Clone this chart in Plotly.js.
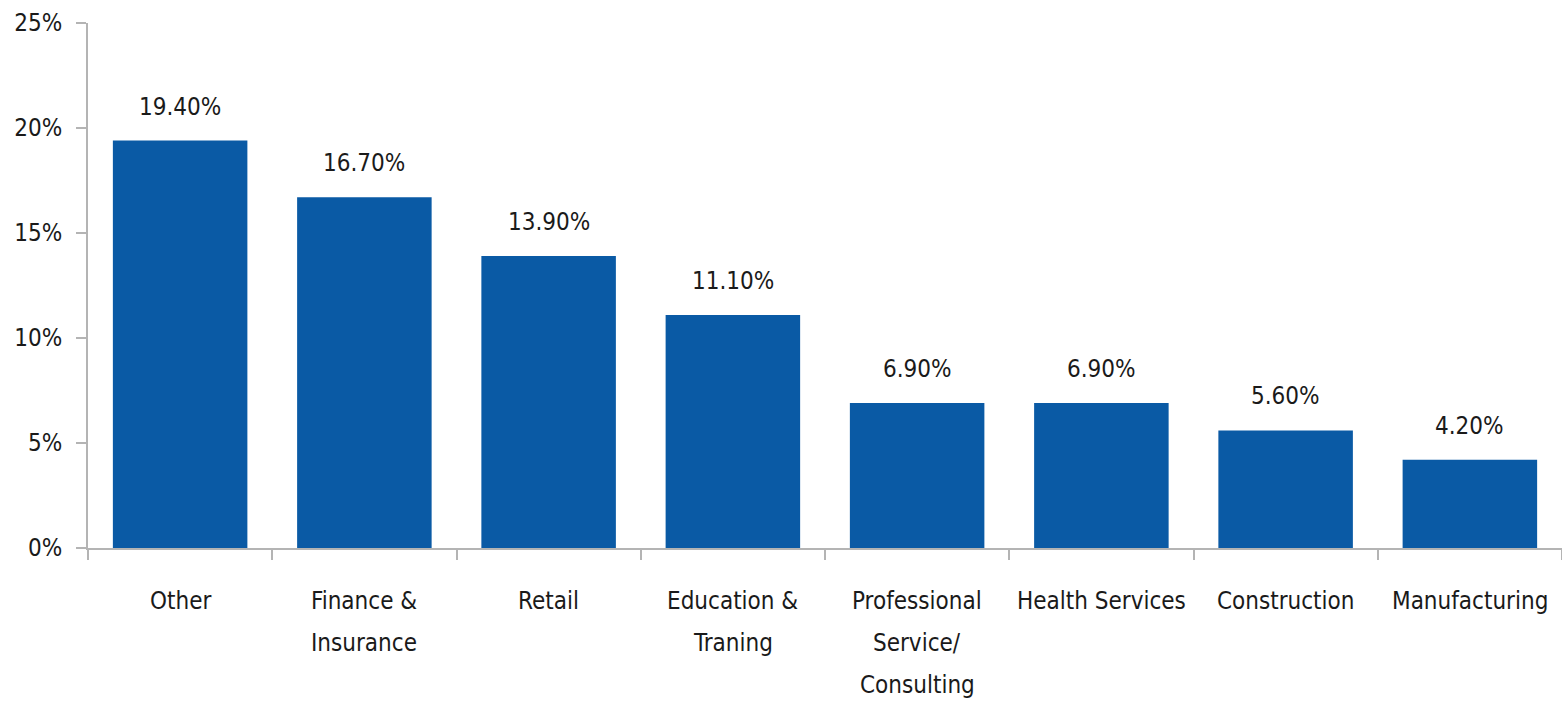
<!DOCTYPE html>
<html>
<head>
<meta charset="utf-8">
<script src="https://cdn.plot.ly/plotly-3.0.1.min.js"></script>
<style>html,body{margin:0;padding:0;background:#fff;}#chart{width:1562px;height:705px;}</style>
</head>
<body>
<div id="chart"></div>
<script>
const categories = ["Other", "Finance &<br>Insurance", "Retail", "Education &<br>Traning", "Professional<br>Service/<br>Consulting", "Health Services", "Construction", "Manufacturing"];
const values = [19.4, 16.7, 13.9, 11.1, 6.9, 6.9, 5.6, 4.2];
const valueLabels = ["19.40%", "16.70%", "13.90%", "11.10%", "6.90%", "6.90%", "5.60%", "4.20%"];
const yTickVals = [0, 5, 10, 15, 20, 25];
const yTickText = ["0%", "5%", "10%", "15%", "20%", "25%"];

const FONT = "'Liberation Sans Narrow', 'Arial Narrow', 'DejaVu Sans Condensed', 'Liberation Sans', Arial, sans-serif";
const axisColor = "#b4b4b4";
const textColor = "#1a1a1a";

const trace = {
  type: "bar",
  x: categories,
  y: values,
  marker: {color: "#0a5aa5"},
  hoverinfo: "none"
};

const annotations = categories.map((c, i) => ({
  x: c, y: values[i], xref: "x", yref: "y",
  text: valueLabels[i], showarrow: false,
  yanchor: "bottom", yshift: 18,
  font: {family: FONT, size: 24, color: textColor}
}));

// Category labels drawn line by line to match the wider line spacing of the original
categories.forEach((c) => {
  c.split("<br>").forEach((line, k) => {
    annotations.push({
      x: c, y: 0, xref: "x", yref: "paper",
      text: line, showarrow: false,
      xanchor: "center", yanchor: "middle",
      yshift: -53 - k * 42,
      font: {family: FONT, size: 24, color: textColor}
    });
  });
});

const layout = {
  width: 1562, height: 705,
  margin: {l: 88, r: 0, t: 23, b: 157},
  paper_bgcolor: "#fff", plot_bgcolor: "#fff",
  showlegend: false,
  bargap: 0.27,
  font: {family: FONT, size: 24, color: textColor},
  xaxis: {
    type: "category",
    showgrid: false, zeroline: false,
    showline: true, linecolor: axisColor, linewidth: 2,
    ticks: "outside", tickson: "boundaries", ticklen: 10, tickwidth: 2, tickcolor: axisColor,
    showticklabels: false,
    automargin: false
  },
  yaxis: {
    range: [0, 25],
    tickvals: yTickVals, ticktext: yTickText,
    showgrid: false, zeroline: false,
    showline: true, linecolor: axisColor, linewidth: 2,
    ticks: "outside", ticklen: 10, tickwidth: 2, tickcolor: axisColor,
    ticklabelstandoff: 9,
    tickfont: {family: FONT, size: 24, color: textColor},
    automargin: false
  },
  annotations: annotations
};

Plotly.newPlot("chart", [trace], layout, {displayModeBar: false, staticPlot: true});
</script>
</body>
</html>
